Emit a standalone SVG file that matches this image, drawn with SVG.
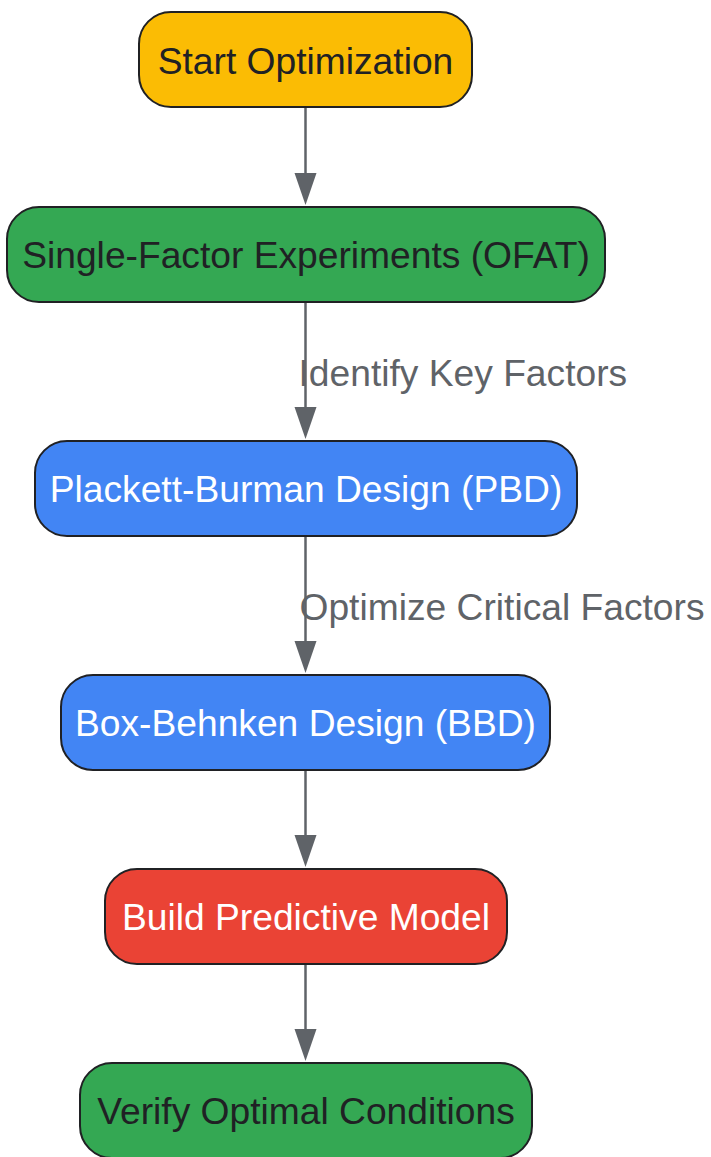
<svg xmlns="http://www.w3.org/2000/svg" width="711" height="1157" viewBox="0 0 711 1157">
<defs>
<style>
.n{stroke:#202124;stroke-width:2}
.t{font-family:"Liberation Sans",Arial,sans-serif;font-size:37.2px;text-anchor:middle}
.d{fill:#202124}
.w{fill:#ffffff}
.e{stroke:#5f6368;stroke-width:2.5;fill:none}
.l{font-family:"Liberation Sans",Arial,sans-serif;font-size:37.2px;fill:#5f6368}
</style>
</defs>
<rect width="711" height="1157" fill="#ffffff"/>
<g id="connectors">
<line class="e" x1="305.5" y1="107" x2="305.5" y2="173"/><path d="M294.5,173 L316.5,173 L305.5,205 Z" fill="#5f6368"/>
<line class="e" x1="305.5" y1="302" x2="305.5" y2="407"/><path d="M294.5,407 L316.5,407 L305.5,439 Z" fill="#5f6368"/>
<line class="e" x1="305.5" y1="536" x2="305.5" y2="641"/><path d="M294.5,641 L316.5,641 L305.5,673 Z" fill="#5f6368"/>
<line class="e" x1="305.5" y1="770" x2="305.5" y2="835"/><path d="M294.5,835 L316.5,835 L305.5,867 Z" fill="#5f6368"/>
<line class="e" x1="305.5" y1="964" x2="305.5" y2="1029"/><path d="M294.5,1029 L316.5,1029 L305.5,1061 Z" fill="#5f6368"/>
<text class="l" x="298.5" y="386">Identify Key Factors</text>
<text class="l" x="299.5" y="620">Optimize Critical Factors</text>
</g>
<g id="start">
<rect class="n" x="139" y="12" width="333" height="95" rx="32" fill="#fbbc04"/>
<text class="t d" x="305.5" y="74">Start Optimization</text>
</g>
<g id="ofat">
<rect class="n" x="7" y="207" width="598" height="95" rx="32" fill="#34a853"/>
<text class="t d" x="306" y="268">Single-Factor Experiments (OFAT)</text>
</g>
<g id="pbd">
<rect class="n" x="35" y="441" width="542" height="95" rx="32" fill="#4285f4"/>
<text class="t w" x="306" y="502">Plackett-Burman Design (PBD)</text>
</g>
<g id="bbd">
<rect class="n" x="61" y="675" width="489" height="95" rx="32" fill="#4285f4"/>
<text class="t w" x="305.5" y="736">Box-Behnken Design (BBD)</text>
</g>
<g id="model">
<rect class="n" x="105" y="869" width="402" height="95" rx="32" fill="#ea4335"/>
<text class="t w" x="306" y="930">Build Predictive Model</text>
</g>
<g id="verify">
<rect class="n" x="80" y="1063" width="452" height="95" rx="32" fill="#34a853"/>
<text class="t d" x="306" y="1124">Verify Optimal Conditions</text>
</g>
</svg>
